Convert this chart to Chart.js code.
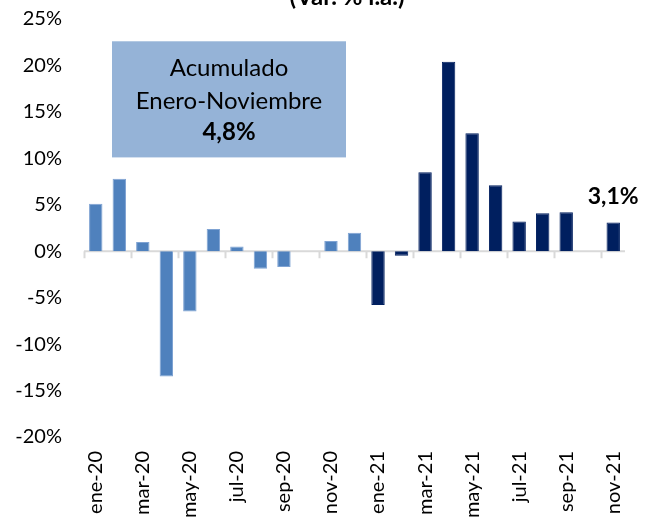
<!DOCTYPE html>
<html>
<head>
<meta charset="utf-8">
<script src="https://cdn.jsdelivr.net/npm/chart.js@4.4.1/dist/chart.umd.min.js"></script>
<style>
  html, body { margin: 0; padding: 0; background: #fff; }
</style>
</head>
<body>
<canvas id="chart" width="653" height="521"></canvas>
<script>
  // Meses ene-20 .. nov-21 (var. % i.a.)
  const MONTHS = [
    'ene-20', 'feb-20', 'mar-20', 'abr-20', 'may-20', 'jun-20',
    'jul-20', 'ago-20', 'sep-20', 'oct-20', 'nov-20', 'dic-20',
    'ene-21', 'feb-21', 'mar-21', 'abr-21', 'may-21', 'jun-21',
    'jul-21', 'ago-21', 'sep-21', 'oct-21', 'nov-21'
  ];
  const VALUES = [
    5.1, 7.8, 1.0, -13.5, -6.5, 2.4,
    0.5, -1.9, -1.7, null, 1.1, 2.0,
    -5.8, -0.5, 8.5, 20.4, 12.7, 7.1,
    3.2, 4.1, 4.2, null, 3.1
  ];
  const Y_MIN = -20;
  const Y_MAX = 25;
  const Y_STEP = 5;

  const TITLE = '(Var. % i.a.)';
  const BOX_LINES = ['Acumulado', 'Enero-Noviembre', '4,8%'];
  const LAST_LABEL = '3,1%';

  const FONT = 'Lato, "Open Sans", sans-serif';
  const LIGHT = '#4F81BD';
  const DARK = '#001F5F';

  Chart.defaults.font.family = FONT;
  Chart.defaults.color = '#000';

  const colors = MONTHS.map((m) => (m.endsWith('-20') ? LIGHT : DARK));
  const borders = MONTHS.map((m) => (m.endsWith('-20') ? '#7FA3D3' : DARK));

  const decorations = {
    id: 'decorations',
    beforeDatasetsDraw(chart) {
      const { ctx, chartArea, scales: { x, y } } = chart;
      const y0 = y.getPixelForValue(0);
      const step = x.getPixelForValue(1) - x.getPixelForValue(0);
      ctx.save();
      ctx.strokeStyle = '#D9D9D9';
      ctx.lineWidth = 2;
      ctx.beginPath();
      ctx.moveTo(chartArea.left, y0);
      ctx.lineTo(chartArea.right, y0);
      for (let i = 0; i < MONTHS.length; i += 2) {
        const tx = Math.round(x.getPixelForValue(i) - step / 2) + 0.5;
        ctx.moveTo(tx, y0);
        ctx.lineTo(tx, y0 + 7);
      }
      ctx.stroke();

      // cuadro "Acumulado"
      const bx = chartArea.left + 28;
      const bw = 234;
      const by = y.getPixelForValue(22.6);
      const bh = y.getPixelForValue(10.1) - by;
      ctx.fillStyle = '#95B3D7';
      ctx.fillRect(bx, by, bw, bh);
      ctx.fillStyle = '#000';
      ctx.textAlign = 'center';
      ctx.textBaseline = 'middle';
      const cx = bx + bw / 2;
      ctx.font = '24px ' + FONT;
      ctx.fillText(BOX_LINES[0], cx, by + 27);
      ctx.fillText(BOX_LINES[1], cx, by + 60);
      ctx.font = 'bold 24px ' + FONT;
      ctx.fillText(BOX_LINES[2], cx, by + 91);

      // título cortado arriba
      ctx.font = 'bold 24px ' + FONT;
      ctx.textBaseline = 'alphabetic';
      ctx.fillText(TITLE, 347, 5);
      ctx.restore();
    },
    afterDatasetsDraw(chart) {
      const { ctx } = chart;
      const meta = chart.getDatasetMeta(0);
      const bar = meta.data[MONTHS.length - 1];
      ctx.save();
      ctx.font = 'bold 23px ' + FONT;
      ctx.fillStyle = '#000';
      ctx.textAlign = 'center';
      ctx.textBaseline = 'alphabetic';
      ctx.fillText(LAST_LABEL, bar.x, bar.y - 18);
      ctx.restore();
    }
  };

  new Chart(document.getElementById('chart'), {
    type: 'bar',
    data: {
      labels: MONTHS,
      datasets: [
        {
          data: VALUES,
          backgroundColor: colors,
          borderColor: borders,
          borderWidth: 1,
          barPercentage: 0.57,
          categoryPercentage: 1
        }
      ]
    },
    options: {
      responsive: false,
      animation: false,
      devicePixelRatio: 1,
      layout: { padding: { top: 19, right: 28, left: 0, bottom: 0 } },
      plugins: { legend: { display: false }, tooltip: { enabled: false } },
      scales: {
        x: {
          grid: { display: false, drawTicks: false },
          border: { display: false },
          ticks: {
            autoSkip: false,
            minRotation: 90,
            maxRotation: 90,
            padding: 14,
            font: { size: 20 },
            color: '#000',
            callback: (v, i) => (i % 2 === 0 ? MONTHS[i] : '')
          },
          afterFit: (scale) => {
            scale.height = 84;
            scale.paddingLeft = 0;
            scale.paddingRight = 0;
          }
        },
        y: {
          min: Y_MIN,
          max: Y_MAX,
          grid: { display: false, drawTicks: false },
          border: { display: false },
          ticks: {
            stepSize: Y_STEP,
            padding: 22,
            font: { size: 20 },
            color: '#000',
            callback: (v) => v + '%'
          },
          afterFit: (scale) => {
            scale.width = 84;
            scale.paddingTop = 0;
            scale.paddingBottom = 0;
          }
        }
      }
    },
    plugins: [decorations]
  });
</script>
</body>
</html>
